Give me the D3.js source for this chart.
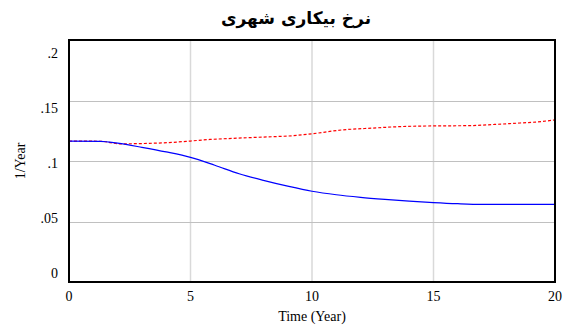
<!DOCTYPE html>
<html><head><meta charset="utf-8">
<script src="https://cdn.jsdelivr.net/npm/d3@7"></script>
<style>body{margin:0;background:#fff}svg{display:block}</style>
</head><body>
<svg id="c" width="568" height="331"></svg>
<script>
const title = "نرخ بیکاری شهری";
const xLabel = "Time (Year)";
const yLabel = "1/Year";
const xTicks = [0, 5, 10, 15, 20];
const yTicks = [0, 0.05, 0.1, 0.15, 0.2];
const yTickLabels = ["0", ".05", ".1", ".15", ".2"];
// blue solid series
const blueT = [0, 1.3, 2, 3, 4, 5, 6, 7, 8, 9, 10, 11, 12, 13, 14, 15, 16, 17, 18, 20];
const blueV = [0.1165, 0.1163, 0.1147, 0.1113, 0.1075, 0.1030, 0.0965, 0.0895, 0.0840, 0.0792, 0.0750, 0.0721, 0.0700, 0.0683, 0.0668, 0.0656, 0.0647, 0.0642, 0.0642, 0.0642];
// red dashed series
const redT = [0, 1.3, 2.1, 3.3, 4.1, 5.0, 5.8, 6.5, 8.0, 9.2, 10.0, 11.2, 12.5, 13.6, 15.0, 16.4, 17.5, 18.3, 19.2, 20];
const redV = [0.1165, 0.1163, 0.1142, 0.1146, 0.1152, 0.1165, 0.1178, 0.1185, 0.1198, 0.1209, 0.1225, 0.1256, 0.1272, 0.1284, 0.1290, 0.1292, 0.1302, 0.1311, 0.1322, 0.1339];

const svg = d3.select("#c");
const L = 69, R = 555, T = 40, B = 282;
const x = d3.scaleLinear().domain([0, 20]).range([L, R]);
const y = d3.scaleLinear().domain([0, 0.2]).range([B, T]);
const yLab = d3.scaleLinear().domain([0, 0.2]).range([273, 53]);

// grid
svg.append("g").selectAll("line").data(xTicks.slice(1, -1)).join("line")
  .attr("x1", d => x(d)).attr("x2", d => x(d)).attr("y1", T).attr("y2", B)
  .attr("stroke", "#d9d9d9").attr("stroke-width", 1.5);
svg.append("g").selectAll("line").data(yTicks.slice(1, -1)).join("line")
  .attr("x1", L).attr("x2", R).attr("y1", d => Math.round(y(d)) + 0.5).attr("y2", d => Math.round(y(d)) + 0.5)
  .attr("stroke", "#c0c0c0").attr("stroke-width", 1);

const line = d3.line().x(d => x(d[0])).y(d => y(d[1])).curve(d3.curveMonotoneX);
svg.append("path").datum(redT.map((t, i) => [t, redV[i]]))
  .attr("d", line).attr("fill", "none").attr("stroke", "#ff0000").attr("stroke-width", 1.2)
  .attr("stroke-dasharray", "3,2");
svg.append("path").datum(blueT.map((t, i) => [t, blueV[i]]))
  .attr("d", line).attr("fill", "none").attr("stroke", "#0000ff").attr("stroke-width", 1.2);

// frame
svg.append("rect").attr("x", L).attr("y", T).attr("width", R - L).attr("height", B - T)
  .attr("fill", "none").attr("stroke", "#000").attr("stroke-width", 2);

const font = "'Liberation Serif', 'Times New Roman', serif";
svg.append("g").selectAll("text").data(yTicks).join("text")
  .attr("x", 58).attr("y", d => yLab(d)).attr("dy", "0.35em").attr("text-anchor", "end")
  .attr("font-family", font).attr("font-size", 14).text((d, i) => yTickLabels[i]);
svg.append("g").selectAll("text").data(xTicks).join("text")
  .attr("x", d => x(d)).attr("y", 296).attr("dy", "0.35em").attr("text-anchor", "middle")
  .attr("font-family", font).attr("font-size", 14).text(d => d);
svg.append("text").attr("x", 312).attr("y", 316).attr("dy", "0.35em").attr("text-anchor", "middle")
  .attr("font-family", font).attr("font-size", 14).text(xLabel);
svg.append("text").attr("transform", "translate(20,161) rotate(-90)").attr("dy", "0.35em")
  .attr("text-anchor", "middle").attr("font-family", font).attr("font-size", 14).text(yLabel);
svg.append("text").attr("x", 296).attr("y", 18).attr("dy", "0.35em").attr("text-anchor", "middle")
  .attr("font-family", "'DejaVu Sans', sans-serif").attr("font-size", 17).attr("font-weight", "bold")
  .attr("direction", "rtl").text(title);
</script>
</body></html>
